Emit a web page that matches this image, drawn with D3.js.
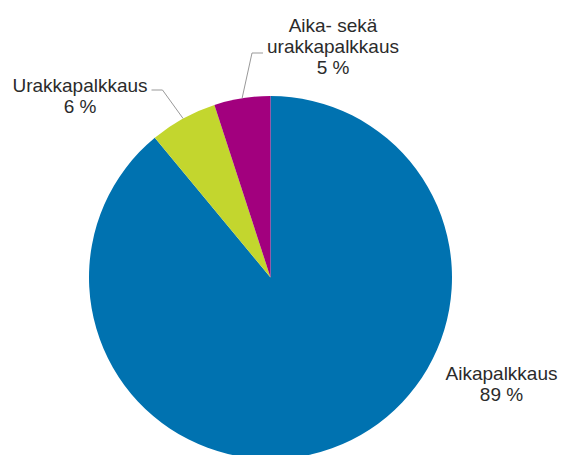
<!DOCTYPE html>
<html>
<head>
<meta charset="utf-8">
<script src="https://cdn.jsdelivr.net/npm/d3@7"></script>
<style>
  body { margin: 0; background: #fff; }
  text { font-family: "Liberation Sans", Arial, sans-serif; font-size: 19px; fill: #2b2b2b; }
</style>
</head>
<body>
<div id="chart"></div>
<script>
// data
var categories = ["Aikapalkkaus", "Urakkapalkkaus", "Aika- sekä urakkapalkkaus"];
var values = [89, 6, 5];
var labelLines = [["Aikapalkkaus", "89 %"], ["Urakkapalkkaus", "6 %"], ["Aika- sekä", "urakkapalkkaus", "5 %"]];
var colors = ["#0072b0", "#c3d62e", "#a2007e"];

var width = 563, height = 455;
var cx = 270.5, cy = 277.5, r = 181.5;

var svg = d3.select("#chart")
  .append("svg")
    .attr("width", width)
    .attr("height", height);

var g = svg.append("g")
    .attr("transform", "translate(" + cx + "," + cy + ")");

var data = categories.map(function (c, i) { return {name: c, value: values[i], lines: labelLines[i], color: colors[i]}; });

var pie = d3.pie()
  .sort(null)
  .value(function (d) { return d.value; });

var arc = d3.arc().innerRadius(0).outerRadius(r);

var arcs = pie(data);

g.selectAll("path")
  .data(arcs)
  .enter()
  .append("path")
    .attr("d", arc)
    .attr("fill", function (d) { return d.data.color; });

// label positions (relative to pie centre) and leader line elbows
var labelPos = [
  {x: 231, y: 102, elbow: null},
  {x: -190.5, y: -186, elbow: [-108, -187.5], dir: -1},
  {x: 62.5, y: -246, elbow: [-18.5, -224.5], dir: 1}
];

var lineH = 21;

arcs.forEach(function (a, i) {
  var p = labelPos[i];
  if (p.elbow) {
    var mid = (a.startAngle + a.endAngle) / 2;
    var edge = [Math.sin(mid) * r, -Math.cos(mid) * r];
    var ex = p.elbow;
    g.append("polyline")
      .attr("points", [edge, ex, [ex[0] + p.dir * 11, ex[1]]].map(function (q) { return q.join(","); }).join(" "))
      .attr("fill", "none")
      .attr("stroke", "#999")
      .attr("stroke-width", 1);
  }
  var t = g.append("text")
    .attr("text-anchor", "middle")
    .attr("transform", "translate(" + p.x + "," + p.y + ")");
  a.data.lines.forEach(function (line, j) {
    t.append("tspan")
      .attr("x", 0)
      .attr("y", j * lineH)
      .text(line);
  });
});
</script>
</body>
</html>
